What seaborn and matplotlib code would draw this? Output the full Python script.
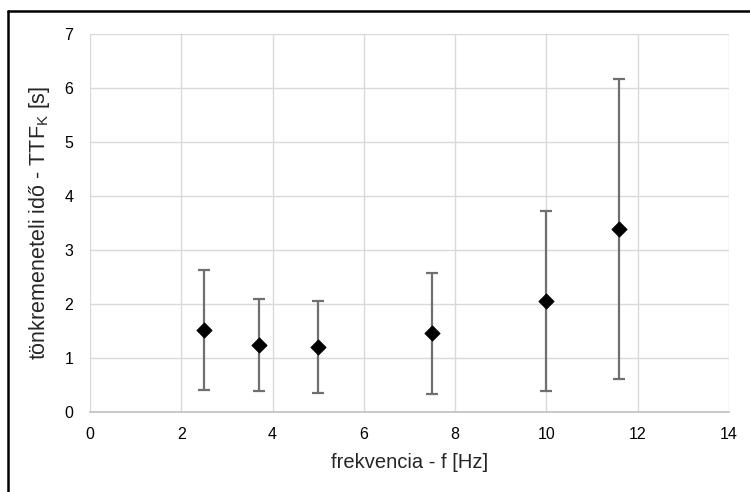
# Tönkremeneteli idő a frekvencia függvényében, hibasávokkal
import pandas as pd
import numpy as np
import matplotlib
matplotlib.use("Agg")
import matplotlib.pyplot as plt
from matplotlib.lines import Line2D
import seaborn as sns

# Adatok
frekvencia = [2.5, 3.7, 5.0, 7.5, 10.0, 11.6]
ttf_atlag = [1.52, 1.24, 1.20, 1.45, 2.05, 3.38]
ttf_also = [0.41, 0.38, 0.35, 0.33, 0.39, 0.60]
ttf_felso = [2.62, 2.09, 2.05, 2.57, 3.72, 6.17]

data = pd.DataFrame({"f": frekvencia, "ttf": ttf_atlag})

sns.set_style("white")
plt.rcParams['font.family'] = ['Liberation Sans', 'DejaVu Sans']
plt.rcParams['mathtext.default'] = 'regular'

fig, ax = plt.subplots(figsize=(7.5, 4.92), dpi=100)
fig.subplots_adjust(left=0.12, right=0.972, top=0.9315, bottom=0.163)

# hibasávok
hiba = [np.array(ttf_atlag) - np.array(ttf_also), np.array(ttf_felso) - np.array(ttf_atlag)]
ax.errorbar(frekvencia, ttf_atlag, yerr=hiba, fmt='none', ecolor='#6f6f6f',
            elinewidth=1.6, capsize=4, capthick=1.6, zorder=2)
sns.scatterplot(data=data, x="f", y="ttf", marker='D', s=60, color='black',
                edgecolor='black', ax=ax, zorder=3)

ax.set_xlim(0, 14)
ax.set_ylim(0, 7)
ax.set_xticks(range(0, 15, 2))
ax.set_yticks(range(0, 8))
ax.grid(True, color='#d9d9d9', linewidth=1)
ax.set_axisbelow(True)
for s in ['top', 'right', 'left']:
    ax.spines[s].set_visible(False)
ax.spines['bottom'].set_color('#bfbfbf')
ax.spines['bottom'].set_linewidth(1.2)
ax.tick_params(axis='both', length=0, labelsize=11.5, colors='#000000')
ax.tick_params(axis='x', pad=11)
ax.tick_params(axis='y', pad=12)

ax.set_xlabel('frekvencia - f [Hz]', fontsize=14.5, labelpad=8)
ax.set_ylabel(r'tönkremeneteli idő - TTF$_{K}$ [s]', fontsize=15.5, labelpad=9)

# külső keret (csak bal és felső él látszik)
fig.add_artist(Line2D([0.011, 1.0], [0.977, 0.977], transform=fig.transFigure,
                      color='black', linewidth=1.8))
fig.add_artist(Line2D([0.011, 0.011], [0.0, 0.977], transform=fig.transFigure,
                      color='black', linewidth=1.8))

plt.savefig("out.png", dpi=100)
